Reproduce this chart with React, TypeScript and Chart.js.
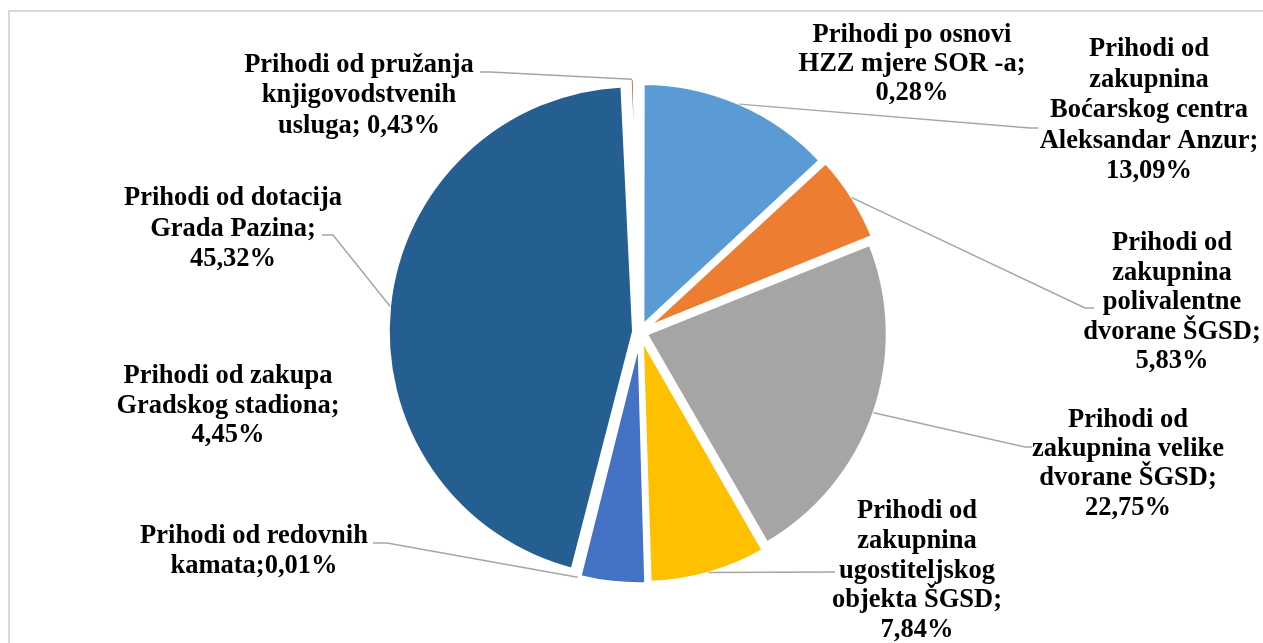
import React, { useEffect, useRef } from "react";
import { Chart, registerables } from "chart.js";

Chart.register(...registerables);

// ---- data ----
const categories = [
  "Prihodi od zakupnina Boćarskog centra Aleksandar Anzur",
  "Prihodi od zakupnina polivalentne dvorane ŠGSD",
  "Prihodi od zakupnina velike dvorane ŠGSD",
  "Prihodi od zakupnina ugostiteljskog objekta ŠGSD",
  "Prihodi od zakupa Gradskog stadiona",
  "Prihodi od redovnih kamata",
  "Prihodi od dotacija Grada Pazina",
  "Prihodi od pružanja knjigovodstvenih usluga",
  "Prihodi po osnovi HZZ mjere SOR -a",
];

const shares = [13.09, 5.83, 22.75, 7.84, 4.45, 0.01, 45.32, 0.43, 0.28];

const labelLines = [
  ["Prihodi od", "zakupnina", "Boćarskog centra", "Aleksandar Anzur;", "13,09%"],
  ["Prihodi od", "zakupnina", "polivalentne", "dvorane ŠGSD;", "5,83%"],
  ["Prihodi od", "zakupnina velike", "dvorane ŠGSD;", "22,75%"],
  ["Prihodi od", "zakupnina", "ugostiteljskog", "objekta ŠGSD;", "7,84%"],
  ["Prihodi od zakupa", "Gradskog stadiona;", "4,45%"],
  ["Prihodi od redovnih", "kamata;0,01%"],
  ["Prihodi od dotacija", "Grada Pazina;", "45,32%"],
  ["Prihodi od pružanja", "knjigovodstvenih", "usluga; 0,43%"],
  ["Prihodi po osnovi", "HZZ mjere SOR -a;", "0,28%"],
];

const sliceColors = [
  "#5B9BD5",
  "#ED7D31",
  "#A5A5A5",
  "#FFC000",
  "#4472C4",
  "#70AD47",
  "#255E91",
  "#9E480E",
  "#636363",
];

// ---- label layout (text block centre x, first baseline y, line height, leader path) ----
type Layout = { x: number; y: number; lh: number; leader?: number[][] };
const labelLayout: Layout[] = [
  { x: 1149, y: 56, lh: 30.5, leader: [[1030, 128], [1038, 128]] },
  { x: 1172, y: 250, lh: 29.5, leader: [[1085, 308], [1094, 308]] },
  { x: 1128, y: 427, lh: 29.2, leader: [[1025, 447], [1032, 447]] },
  { x: 917, y: 518, lh: 29.8, leader: [[835, 572]] },
  { x: 228, y: 383, lh: 29.5 },
  { x: 254, y: 543, lh: 30, leader: [[387, 543], [373, 543]] },
  { x: 233, y: 205, lh: 30.5, leader: [[333, 235], [322, 235]] },
  { x: 359, y: 72, lh: 30.3, leader: [[490, 72], [480, 72]] },
  { x: 912, y: 42, lh: 29 },
];

const labelPlugin = {
  id: "sliceLabels",
  afterDatasetsDraw(chart: any) {
    const ctx: CanvasRenderingContext2D = chart.ctx;
    const meta = chart.getDatasetMeta(0);
    ctx.save();
    meta.data.forEach((arc: any, i: number) => {
      const L = labelLayout[i];
      if (!L) return;
      const p = arc.getProps(["x", "y", "startAngle", "endAngle", "outerRadius"], true);
      const tr = (arc.options.offset || 0) / 4;
      const circ = p.endAngle - p.startAngle;
      const fix = 1 - Math.sin(Math.min(Math.PI, circ));
      const mid = (p.startAngle + p.endAngle) / 2;
      const r = p.outerRadius + tr * fix - 1;
      const sx = p.x + Math.cos(mid) * (r + tr);
      const sy = p.y + Math.sin(mid) * (r + tr);
      if (L.leader) {
        ctx.beginPath();
        ctx.moveTo(sx, sy);
        for (const pt of L.leader) ctx.lineTo(pt[0], pt[1]);
        ctx.strokeStyle = "#A6A6A6";
        ctx.lineWidth = 1.5;
        ctx.stroke();
      }
      ctx.font = 'bold 26.5px "Liberation Serif", "Times New Roman", serif';
      ctx.fillStyle = "#000000";
      ctx.textAlign = "center";
      ctx.textBaseline = "alphabetic";
      labelLines[i].forEach((t, k) => ctx.fillText(t, L.x, L.y + k * L.lh));
    });
    ctx.restore();
  },
};

export default function App() {
  const ref = useRef<HTMLCanvasElement>(null);
  useEffect(() => {
    if (!ref.current) return;
    const chart = new Chart(ref.current, {
      type: "pie",
      data: {
        labels: categories,
        datasets: [
          {
            data: shares,
            backgroundColor: sliceColors,
            borderColor: "#FFFFFF",
            borderWidth: 4,
            offset: 24,
            radius: 242,
          } as any,
        ],
      },
      options: {
        responsive: false,
        animation: false,
        devicePixelRatio: 1,
        layout: { padding: { left: 17, top: 21, right: 0, bottom: 0 } },
        plugins: {
          legend: { display: false },
          tooltip: { enabled: false },
        },
      } as any,
      plugins: [labelPlugin],
    });
    return () => chart.destroy();
  }, []);

  return (
    <div
      style={{
        position: "fixed",
        left: 0,
        top: 0,
        width: 1263,
        height: 643,
        overflow: "hidden",
        background: "#FFFFFF",
      }}
    >
      <div
        style={{
          position: "absolute",
          left: 8,
          top: 10,
          width: 1320,
          height: 720,
          border: "2px solid #D9D9D9",
          boxSizing: "border-box",
        }}
      />
      <canvas
        ref={ref}
        width={1263}
        height={643}
        style={{ position: "absolute", left: 0, top: 0, width: 1263, height: 643 }}
      />
    </div>
  );
}
